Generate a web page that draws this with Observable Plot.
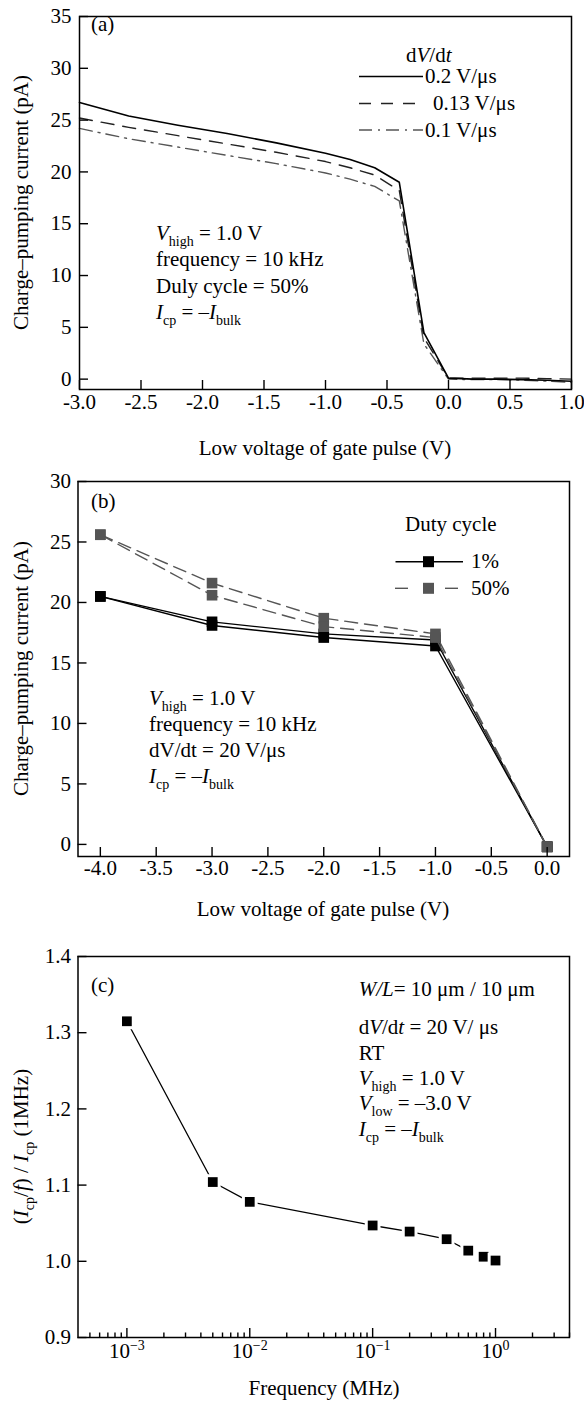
<!DOCTYPE html>
<html>
<head>
<meta charset="utf-8">
<script src="https://cdn.jsdelivr.net/npm/d3@7"></script>
<script src="https://cdn.jsdelivr.net/npm/@observablehq/plot@0.6"></script>
<style>
  body { margin: 0; background: #fff; }
  #wrap { position: relative; width: 584px; height: 1401px; overflow: hidden; background: #fff; }
  .panel { position: absolute; left: 0; }
</style>
</head>
<body>
<div id="wrap"></div>
<script>
// ---------------- DATA ----------------
// Panel (a): charge-pumping current vs low voltage, three dV/dt values
const aVlow   = [-3.0, -2.6, -2.2, -1.8, -1.4, -1.0, -0.8, -0.6, -0.4, -0.2, 0.0, 0.2, 0.4, 0.6, 0.8, 1.0];
const aRate02  = [26.7, 25.4, 24.5, 23.7, 22.8, 21.8, 21.2, 20.4, 19.0, 4.5, 0.1, 0.0, 0.0, -0.05, -0.1, -0.2];
const aRate013 = [25.2, 24.3, 23.5, 22.7, 21.9, 21.0, 20.4, 19.7, 18.2, 4.0, 0.1, 0.1, 0.1, 0.1, 0.05, 0.0];
const aRate01  = [24.2, 23.2, 22.4, 21.6, 20.8, 19.9, 19.3, 18.6, 17.2, 3.4, 0.0, -0.05, -0.05, -0.1, -0.2, -0.3];
const aSeries  = ["0.2 V/μs", "0.13 V/μs", "0.1 V/μs"];
const aXTicks  = [-3.0, -2.5, -2.0, -1.5, -1.0, -0.5, 0.0, 0.5, 1.0];
const aYTicks  = [0, 5, 10, 15, 20, 25, 30, 35];

// Panel (b): duty cycle 1% and 50%, two sweeps each
const bVlow    = [-4, -3, -2, -1, 0];
const b1Run1   = [20.5, 18.4, 17.4, 16.9, -0.2];
const b1Run2   = [20.5, 18.1, 17.1, 16.4, -0.2];
const b50Run1  = [25.6, 21.6, 18.7, 17.4, -0.2];
const b50Run2  = [25.6, 20.6, 18.0, 17.1, -0.2];
const bSeries  = ["1%", "50%"];
const bXTicks  = [-4.0, -3.5, -3.0, -2.5, -2.0, -1.5, -1.0, -0.5, 0.0];
const bYTicks  = [0, 5, 10, 15, 20, 25, 30];

// Panel (c): normalised charge per cycle vs frequency
const cFreq    = [0.001, 0.005, 0.01, 0.1, 0.2, 0.4, 0.6, 0.8, 1.0];
const cRatio   = [1.315, 1.104, 1.078, 1.047, 1.039, 1.029, 1.014, 1.006, 1.001];
const cXMajor  = [0.001, 0.01, 0.1, 1];
const cXExp    = ["−3", "−2", "−1", "0"];
const cXMinor  = [0.0005, 0.0006, 0.0007, 0.0008, 0.0009,
                  0.002, 0.003, 0.004, 0.005, 0.006, 0.007, 0.008, 0.009,
                  0.02, 0.03, 0.04, 0.05, 0.06, 0.07, 0.08, 0.09,
                  0.2, 0.3, 0.4, 0.5, 0.6, 0.7, 0.8, 0.9,
                  2, 3, 4];
const cYTicks  = [0.9, 1.0, 1.1, 1.2, 1.3, 1.4];

// ---------------- HELPERS ----------------
const FONT = "'Liberation Serif', 'Times New Roman', Times, serif";
const FS = 21, SUB = 14;
const baseStyle = {fontFamily: FONT, fontSize: FS + "px", color: "black", background: "white", overflow: "visible"};
const fmt1 = d => d.toFixed(1);
const rows = (xs, ys) => xs.map((x, i) => ({x, y: ys[i]}));

function axes(xTicks, yTicks, xFormat, yFormat, xPad, yPad, extra = []) {
  return [
    Plot.axisX({ticks: xTicks, tickSize: 0, tickPadding: xPad, tickFormat: xFormat, label: null, fill: "black"}),
    Plot.axisX({ticks: xTicks, tickSize: 9, dy: -9, fill: "none", label: null, stroke: "black", strokeWidth: 1.4}),
    Plot.axisY({ticks: yTicks, tickSize: 0, tickPadding: yPad, tickFormat: yFormat, label: null, fill: "black"}),
    Plot.axisY({ticks: yTicks, tickSize: 9, dx: 9, fill: "none", label: null, stroke: "black", strokeWidth: 1.4}),
    ...extra
  ];
}

function rich(svg, x, y, segs, o = {}) {
  const t = d3.select(svg).append("text")
    .attr("x", x).attr("y", y)
    .attr("font-family", FONT).attr("font-size", o.size || FS)
    .attr("fill", "black")
    .attr("text-anchor", o.anchor || "start")
    .style("white-space", "pre");
  if (o.rotate) t.attr("transform", `rotate(${o.rotate},${x},${y})`);
  let shift = 0;
  for (const seg of segs) {
    const [s, k = ""] = Array.isArray(seg) ? seg : [seg, ""];
    const keys = k.split(" ");
    const target = keys.includes("sub") ? 6 : keys.includes("sup") ? -8 : 0;
    const ts = t.append("tspan").text(s);
    if (target !== shift) { ts.attr("dy", target - shift); shift = target; }
    if (keys.includes("i")) ts.attr("font-style", "italic");
    if (target !== 0) ts.attr("font-size", SUB);
  }
  return t;
}

function legLine(svg, x1, x2, y, stroke, dash, w) {
  d3.select(svg).append("line")
    .attr("x1", x1).attr("x2", x2).attr("y1", y).attr("y2", y)
    .attr("stroke", stroke).attr("stroke-width", w)
    .attr("stroke-dasharray", dash || null);
}
function legSquare(svg, cx, cy, fill, side) {
  d3.select(svg).append("rect")
    .attr("x", cx - side / 2).attr("y", cy - side / 2)
    .attr("width", side).attr("height", side).attr("fill", fill);
}

function place(svg, top) {
  const div = document.createElement("div");
  div.className = "panel";
  div.style.top = top + "px";
  div.appendChild(svg);
  document.getElementById("wrap").appendChild(div);
}

// ---------------- PANEL (a) ----------------
const dashA = "13,9", dashDotA = "13,6,2,6";
const svgA = Plot.plot({
  width: 584, height: 470,
  marginLeft: 79, marginRight: 13, marginTop: 16, marginBottom: 81,
  style: baseStyle,
  x: {domain: [-3, 1]},
  y: {domain: [-1, 35]},
  marks: [
    Plot.line(rows(aVlow, aRate01), {x: "x", y: "y", stroke: "#555", strokeWidth: 1.4, strokeDasharray: dashDotA}),
    Plot.line(rows(aVlow, aRate013), {x: "x", y: "y", stroke: "#222", strokeWidth: 1.4, strokeDasharray: dashA}),
    Plot.line(rows(aVlow, aRate02), {x: "x", y: "y", stroke: "black", strokeWidth: 1.6}),
    ...axes(aXTicks, aYTicks, fmt1, d => String(d), 5, 8),
    Plot.frame({stroke: "black", strokeWidth: 1.5})
  ]
});
place(svgA, 0);
rich(svgA, 91, 31, ["(a)"]);
rich(svgA, 406, 61.5, ["d", ["V", "i"], "/d", ["t", "i"]]);
legLine(svgA, 359, 423, 76.5, "black", null, 1.6);
legLine(svgA, 359, 423, 103.5, "#222", "12,10", 1.4);
legLine(svgA, 359, 423, 130, "#555", dashDotA, 1.4);
rich(svgA, 425, 83, [aSeries[0]]);
rich(svgA, 433, 110, [aSeries[1]]);
rich(svgA, 425, 136.5, [aSeries[2]]);
rich(svgA, 156, 240, [["V", "i"], ["high", "sub"], " = 1.0 V"]);
rich(svgA, 156, 266, ["frequency = 10 kHz"]);
rich(svgA, 156, 292.5, ["Duly cycle = 50%"]);
rich(svgA, 156, 319, [["I", "i"], ["cp", "sub"], " = –", ["I", "i"], ["bulk", "sub"]]);
rich(svgA, 325, 455, ["Low voltage of gate pulse (V)"], {anchor: "middle"});
rich(svgA, 27.5, 202.5, ["Charge–pumping current (pA)"], {anchor: "middle", rotate: -90});

// ---------------- PANEL (b) ----------------
const dashB = "13,7";
const gray = "#555";
const svgB = Plot.plot({
  width: 584, height: 465,
  marginLeft: 77.5, marginRight: 15, marginTop: 11, marginBottom: 79,
  style: baseStyle,
  x: {domain: [-4.2, 0.2]},
  y: {domain: [-1, 30]},
  marks: [
    Plot.line(rows(bVlow, b1Run1), {x: "x", y: "y", stroke: "black", strokeWidth: 1.4}),
    Plot.line(rows(bVlow, b1Run2), {x: "x", y: "y", stroke: "black", strokeWidth: 1.4}),
    Plot.dot(rows(bVlow, b1Run1), {x: "x", y: "y", symbol: "square", r: 6, fill: "black"}),
    Plot.dot(rows(bVlow, b1Run2), {x: "x", y: "y", symbol: "square", r: 6, fill: "black"}),
    Plot.line(rows(bVlow, b50Run1), {x: "x", y: "y", stroke: gray, strokeWidth: 1.4, strokeDasharray: dashB}),
    Plot.line(rows(bVlow, b50Run2), {x: "x", y: "y", stroke: gray, strokeWidth: 1.4, strokeDasharray: dashB}),
    Plot.dot(rows(bVlow, b50Run1), {x: "x", y: "y", symbol: "square", r: 6, fill: gray}),
    Plot.dot(rows(bVlow, b50Run2), {x: "x", y: "y", symbol: "square", r: 6, fill: gray}),
    ...axes(bXTicks, bYTicks, fmt1, d => String(d), 4, 7),
    Plot.frame({stroke: "black", strokeWidth: 1.5})
  ]
});
place(svgB, 470);
rich(svgB, 91, 38, ["(b)"]);
rich(svgB, 405, 60.5, ["Duty cycle"]);
legLine(svgB, 395.5, 463, 91.7, "black", null, 1.4);
legSquare(svgB, 428.5, 91.7, "black", 11);
legLine(svgB, 395, 408, 118.3, gray, null, 1.4);
legLine(svgB, 445, 458, 118.3, gray, null, 1.4);
legSquare(svgB, 428.5, 118.3, gray, 11);
rich(svgB, 471, 98, [bSeries[0]]);
rich(svgB, 471, 125, [bSeries[1]]);
rich(svgB, 149, 235, [["V", "i"], ["high", "sub"], " = 1.0 V"]);
rich(svgB, 149, 261, ["frequency = 10 kHz"]);
rich(svgB, 149, 287, ["dV/dt = 20 V/μs"]);
rich(svgB, 149, 313, [["I", "i"], ["cp", "sub"], " = –", ["I", "i"], ["bulk", "sub"]]);
rich(svgB, 323, 446, ["Low voltage of gate pulse (V)"], {anchor: "middle"});
rich(svgB, 27.5, 198.5, ["Charge–pumping current (pA)"], {anchor: "middle", rotate: -90});

// ---------------- PANEL (c) ----------------
const expOf = new Map(cXMajor.map((v, i) => [v, cXExp[i]]));
const svgC = Plot.plot({
  width: 584, height: 466,
  marginLeft: 77.5, marginRight: 15, marginTop: 21, marginBottom: 64,
  style: baseStyle,
  x: {type: "log", domain: [0.0004, 4]},
  y: {domain: [0.9, 1.4]},
  marks: [
    Plot.line(rows(cFreq, cRatio), {x: "x", y: "y", stroke: "black", strokeWidth: 1.3}),
    Plot.dot(rows(cFreq, cRatio), {x: "x", y: "y", symbol: "square", r: 5.5, fill: "black", stroke: "white", strokeWidth: 6, paintOrder: "stroke"}),
    ...axes(cXMajor, cYTicks, d => "10^" + expOf.get(d), fmt1, 6, 7, [
      Plot.axisX({ticks: cXMinor, tickSize: 4.5, dy: -4.5, fill: "none", label: null, stroke: "black", strokeWidth: 1.4})
    ]),
    Plot.frame({stroke: "black", strokeWidth: 1.5})
  ]
});
place(svgC, 935);
d3.select(svgC).selectAll("text").each(function () {
  const s = this.textContent;
  if (s.startsWith("10^")) {
    const e = s.slice(3);
    this.textContent = "10";
    d3.select(this).append("tspan").attr("dy", -8).attr("font-size", SUB).text(e);
  }
});
rich(svgC, 91, 57, ["(c)"]);
rich(svgC, 358.7, 61, [["W/L", "i"], "= 10 μm / 10 μm"]);
rich(svgC, 358.7, 99, ["d", ["V", "i"], "/d", ["t", "i"], " = 20 V/ μs"]);
rich(svgC, 358.7, 124.5, ["RT"]);
rich(svgC, 358.7, 149.5, [["V", "i"], ["high", "sub"], " = 1.0 V"]);
rich(svgC, 358.7, 175, [["V", "i"], ["low", "sub"], " = –3.0 V"]);
rich(svgC, 358.7, 201, [["I", "i"], ["cp", "sub"], " = –", ["I", "i"], ["bulk", "sub"]]);
rich(svgC, 324, 460, ["Frequency (MHz)"], {anchor: "middle"});
rich(svgC, 27.5, 211.5, ["(", ["I", "i"], ["cp", "sub"], "/", ["f", "i"], ") / ", ["I", "i"], ["cp", "sub"], " (1MHz)"], {anchor: "middle", rotate: -90});
</script>
</body>
</html>
